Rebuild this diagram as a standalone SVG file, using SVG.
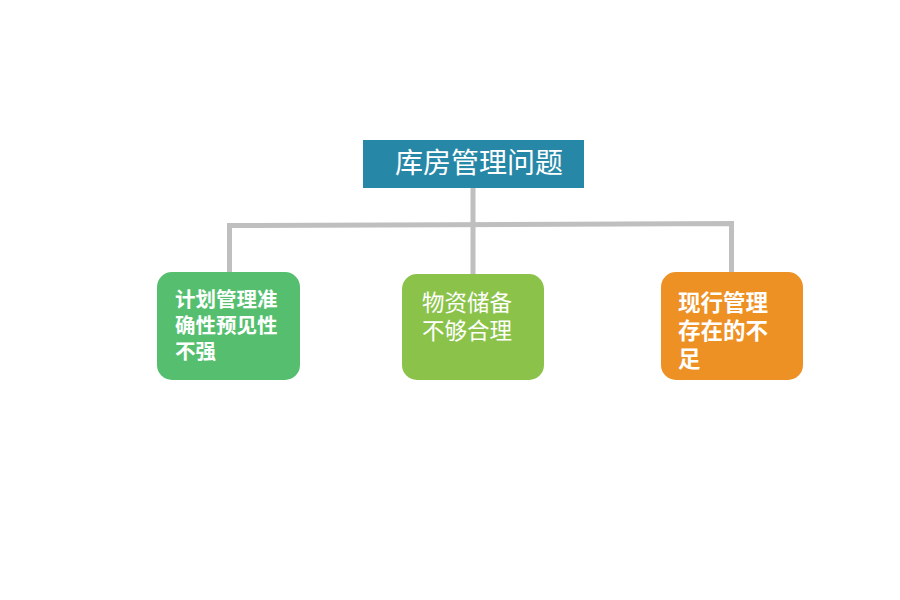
<svg xmlns="http://www.w3.org/2000/svg" width="900" height="600" viewBox="0 0 900 600">
<style>
.t{font-family:"Noto Sans CJK SC","Noto Sans",sans-serif;fill:#ffffff}
.b{font-weight:bold}
.c{stroke:#BFBFBF;stroke-width:5;fill:none}
</style>
<rect width="900" height="600" fill="#ffffff"/>
<g id="connectors">
<line class="c" x1="473" y1="187" x2="473" y2="274"/>
<polyline class="c" points="229.5,273 229.5,225.5 731.5,223.5 731.5,273"/>
</g>
<g id="root">
<rect x="363" y="140" width="221" height="48" fill="#2787A7"/>
<text class="t" x="395" y="173" font-size="28">库房管理问题</text>
</g>
<g id="n1">
<rect x="157" y="272" width="143" height="108" rx="15" fill="#55BF6F"/>
<text class="t b" font-size="20.5"><tspan x="175" y="307">计划管理准</tspan><tspan x="175" y="333">确性预见性</tspan><tspan x="175" y="359">不强</tspan></text>
</g>
<g id="n2">
<rect x="402" y="274" width="142" height="106" rx="15" fill="#8BC34A"/>
<text class="t" font-size="22.5"><tspan x="422" y="311">物资储备</tspan><tspan x="422" y="339">不够合理</tspan></text>
</g>
<g id="n3">
<rect x="661" y="272" width="142" height="108" rx="15" fill="#EE9124"/>
<text class="t b" font-size="22.5"><tspan x="678" y="311">现行管理</tspan><tspan x="678" y="339">存在的不</tspan><tspan x="678" y="367">足</tspan></text>
</g>
</svg>
